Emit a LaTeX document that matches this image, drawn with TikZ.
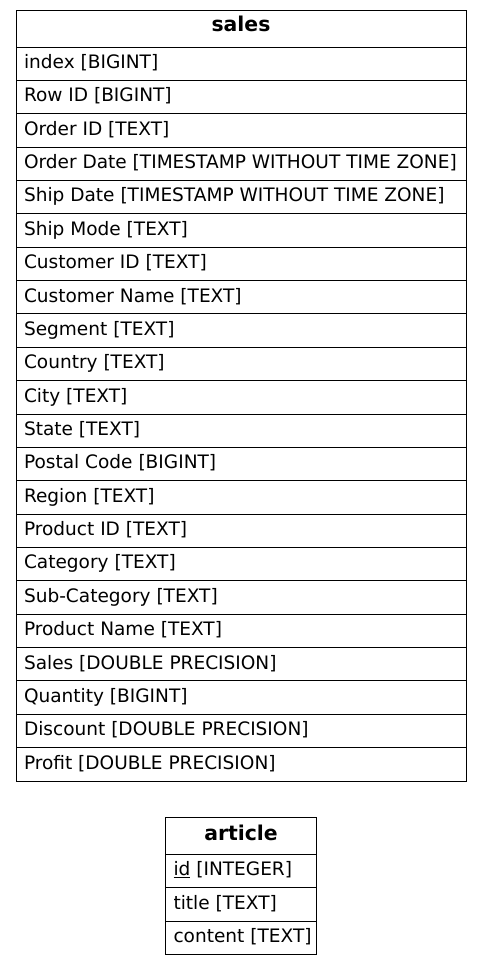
\documentclass[tikz,border=0pt]{standalone}
\usepackage{fontspec}
\setmainfont{DejaVu Sans}
\begin{document}
\begin{tikzpicture}[x=0.75pt,y=-0.75pt,line width=0.75pt,
  cell/.style={draw, rectangle, anchor=north west, inner sep=0pt, outer sep=0pt},
  lbl/.style={anchor=base west, inner sep=0pt, font=\fontsize{13.9}{16}\selectfont},
  hdr/.style={anchor=base, inner sep=0pt, font=\fontsize{15.3}{18}\selectfont\bfseries}]
\useasboundingbox (0,0) rectangle (481,965);
% sales table
\node[cell, minimum width=337.5pt, minimum height=27.75pt] (sh) at (16,10) {};
\node[hdr] (sht) at (241,31.7) {sales};
\foreach \t [count=\i from 0] in {{index [BIGINT]},{Row ID [BIGINT]},{Order ID [TEXT]},{Order Date [TIMESTAMP WITHOUT TIME ZONE]},{Ship Date [TIMESTAMP WITHOUT TIME ZONE]},{Ship Mode [TEXT]},{Customer ID [TEXT]},{Customer Name [TEXT]},{Segment [TEXT]},{Country [TEXT]},{City [TEXT]},{State [TEXT]},{Postal Code [BIGINT]},{Region [TEXT]},{Product ID [TEXT]},{Category [TEXT]},{Sub-Category [TEXT]},{Product Name [TEXT]},{Sales [DOUBLE PRECISION]},{Quantity [BIGINT]},{Discount [DOUBLE PRECISION]},{Profit [DOUBLE PRECISION]}} {
  \pgfmathsetmacro\yy{47+33.364*\i}
  \node[cell, minimum width=337.5pt, minimum height=25.023pt] (s\i) at (16,\yy) {};
  \node[lbl] (st\i) at (23.5,\yy+21.5) {\t};
}
% article table
\node[cell, minimum width=113.25pt, minimum height=27.75pt] (ah) at (165.5,817) {};
\node[hdr] (aht) at (241,840) {article};
\foreach \t [count=\i from 0] in {{\underline{id} [INTEGER]},{title [TEXT]},{content [TEXT]}} {
  \pgfmathsetmacro\yy{854+33.5*\i}
  \node[cell, minimum width=113.25pt, minimum height=25.125pt] (a\i) at (165.5,\yy) {};
  \node[lbl] (at\i) at (173,\yy+21.5) {\t};
}
\end{tikzpicture}
\end{document}
